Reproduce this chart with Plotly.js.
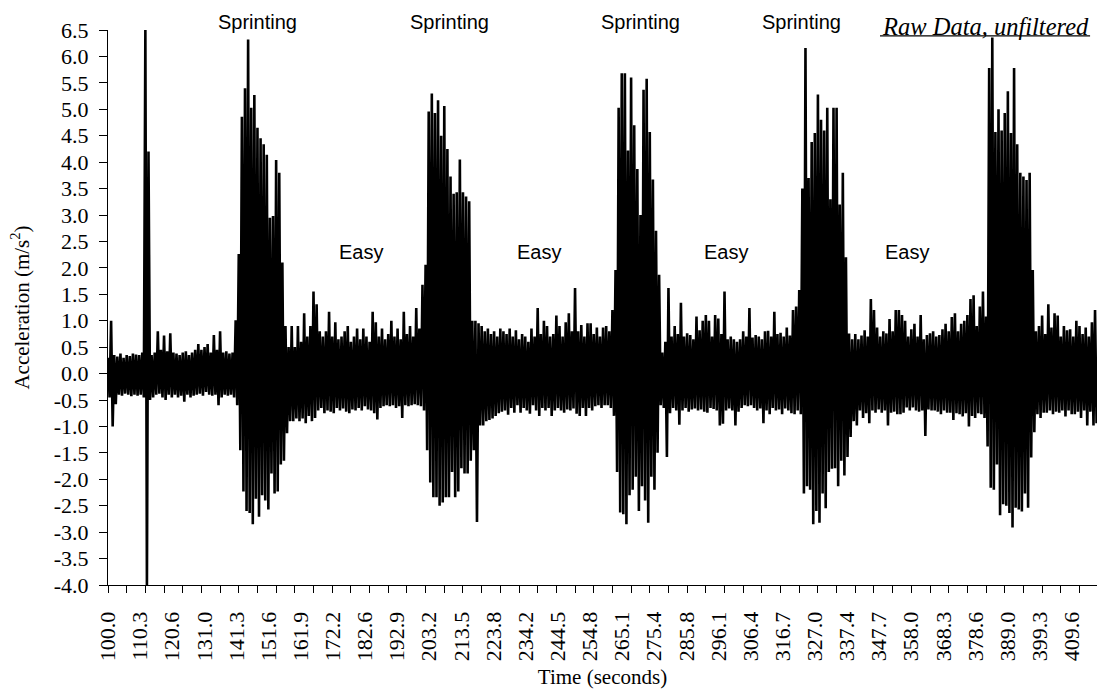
<!DOCTYPE html>
<html>
<head>
<meta charset="utf-8">
<script src="https://cdn.plot.ly/plotly-3.0.1.min.js"></script>
<style>
  html, body { margin: 0; padding: 0; background: #fff; }
  #chart { width: 1098px; height: 693px; }
</style>
</head>
<body>
<div id="chart"></div>
<script>
// Time of first bin (seconds); one bin per second
const startTime = 100;

// Per-second upper extremes of the raw signal (m/s^2), t = 100 .. 417
const upperPeaks = [
  0.3, 1.0, 0.35, 0.32, 0.38, 0.3, 0.35, 0.33, 0.38, 0.36,
  0.35, 0.4, 6.5, 4.2, 0.35, 0.4, 0.8, 0.45, 0.72, 0.42,
  0.76, 0.4, 0.38, 0.35, 0.4, 0.42, 0.35, 0.4, 0.45, 0.56,
  0.45, 0.5, 0.56, 0.4, 0.73, 0.45, 0.8, 0.4, 0.42, 0.38,
  0.4, 1.01, 2.26, 4.86, 5.4, 6.32, 5.03, 5.27, 4.65, 4.45,
  4.34, 4.14, 2.95, 2.98, 4.04, 3.8, 2.1, 0.9, 0.5, 0.9,
  0.5, 0.9, 0.6, 1.14, 0.7, 0.9, 1.55, 1.31, 0.8, 0.7,
  0.8, 1.17, 0.7, 0.97, 0.65, 0.7, 0.8, 0.9, 0.6, 0.7,
  0.85, 0.65, 0.85, 0.7, 0.6, 1.17, 0.97, 0.7, 0.85, 0.65,
  0.75, 1.0, 0.7, 0.85, 0.65, 1.17, 0.75, 0.9, 0.7, 1.24,
  0.85, 1.68, 2.06, 4.96, 5.3, 4.93, 5.17, 4.5, 5.06, 4.25,
  3.73, 3.4, 3.43, 4.05, 3.43, 3.35, 3.26, 1.0, 1.0, 0.95,
  0.9, 0.8, 0.85, 0.75, 0.8, 0.7, 0.85, 0.8, 0.75, 0.85,
  0.7, 0.82, 0.65, 0.75, 0.7, 0.6, 0.85, 0.7, 1.24, 0.75,
  1.0, 0.9, 0.7, 0.75, 1.1, 0.9, 0.7, 0.97, 1.14, 0.8,
  1.62, 0.8, 0.92, 0.7, 0.95, 0.95, 0.75, 0.87, 0.7, 0.87,
  0.9, 0.8, 1.2, 1.96, 5.03, 5.68, 5.68, 4.22, 5.6, 4.7,
  3.87, 3.0, 5.37, 5.58, 4.57, 3.67, 2.7, 1.87, 0.4, 0.6,
  1.62, 0.7, 0.9, 0.75, 1.34, 0.7, 0.76, 0.73, 0.65, 1.08,
  0.82, 1.0, 1.11, 1.0, 0.7, 1.11, 1.04, 0.75, 1.55, 0.65,
  0.7, 0.65, 0.6, 0.65, 0.8, 0.7, 1.24, 0.68, 0.73, 0.7,
  0.65, 0.8, 0.81, 0.7, 1.17, 0.75, 0.77, 0.7, 0.87, 0.72,
  1.2, 1.27, 1.58, 3.5, 6.16, 3.7, 4.38, 4.55, 5.28, 4.8,
  4.6, 5.03, 3.3, 5.03, 5.03, 3.2, 3.8, 2.2, 0.76, 0.65,
  0.75, 0.65, 0.72, 0.82, 0.7, 1.41, 1.2, 0.87, 0.7, 0.8,
  0.76, 1.03, 0.8, 1.2, 1.2, 1.11, 1.0, 0.7, 0.84, 0.94,
  0.7, 1.11, 0.65, 0.73, 0.76, 0.8, 0.7, 0.73, 0.84, 0.94,
  0.8, 1.07, 1.14, 0.8, 0.94, 1.0, 1.11, 1.41, 1.48, 0.9,
  1.27, 1.55, 1.08, 5.78, 6.36, 4.57, 5.0, 4.6, 4.93, 5.34,
  4.55, 5.78, 4.34, 3.8, 3.73, 3.66, 3.8, 1.96, 0.8, 0.9,
  1.1, 0.75, 1.31, 0.87, 1.14, 1.1, 0.7, 0.9, 0.82, 0.84,
  0.7, 1.0, 0.9, 0.75, 0.87, 0.7, 0.97, 1.2
];

// Per-second lower extremes of the raw signal (m/s^2), at t + 0.5
const lowerPeaks = [
  -0.45, -1.0, -0.58, -0.4, -0.42, -0.38, -0.4, -0.43, -0.4, -0.42,
  -0.4, -0.45, -4.0, -0.5, -0.45, -0.4, -0.38, -0.45, -0.5, -0.4,
  -0.45, -0.4, -0.45, -0.42, -0.53, -0.4, -0.45, -0.42, -0.4, -0.38,
  -0.42, -0.35, -0.4, -0.42, -0.4, -0.6, -0.45, -0.4, -0.42, -0.4,
  -0.45, -0.6, -1.45, -2.23, -2.6, -2.64, -2.85, -2.37, -2.71, -2.3,
  -2.4, -2.57, -1.89, -2.27, -2.23, -1.72, -1.65, -1.13, -0.9, -0.9,
  -0.85, -0.9, -0.85, -0.94, -0.8, -0.9, -0.84, -0.7, -0.65, -0.75,
  -0.7, -0.72, -0.75, -0.65, -0.7, -0.66, -0.72, -0.75, -0.68, -0.7,
  -0.65, -0.7, -0.62, -0.68, -0.7, -0.75, -0.87, -0.65, -0.62, -0.6,
  -0.62, -0.6, -0.65, -0.62, -0.84, -0.6, -0.62, -0.6, -0.58, -0.6,
  -0.62, -0.7, -1.45, -2.06, -2.34, -2.34, -2.5, -2.44, -2.34, -2.34,
  -1.86, -2.34, -2.23, -1.79, -1.89, -1.89, -1.65, -1.45, -2.81, -0.98,
  -0.98, -0.9, -0.88, -0.85, -0.8, -0.75, -0.72, -0.7, -0.78, -0.65,
  -0.74, -0.6, -0.74, -0.65, -0.7, -0.76, -0.6, -0.7, -0.8, -0.65,
  -0.7, -0.65, -0.8, -0.7, -0.65, -0.7, -0.74, -0.68, -0.7, -0.66,
  -0.76, -0.8, -0.65, -0.8, -0.65, -0.7, -0.62, -0.6, -0.65, -0.6,
  -0.6, -0.65, -0.8, -1.86, -2.63, -2.66, -2.85, -2.3, -2.2, -1.95,
  -2.6, -2.13, -2.4, -2.82, -1.95, -2.2, -1.5, -0.6, -0.65, -1.58,
  -0.75, -0.65, -0.7, -0.97, -0.7, -0.65, -0.72, -0.68, -0.66, -0.7,
  -0.68, -0.72, -0.74, -0.65, -0.67, -0.7, -0.98, -0.95, -0.7, -0.66,
  -0.7, -0.98, -0.72, -0.65, -0.6, -0.62, -0.6, -0.65, -0.7, -0.66,
  -0.94, -0.7, -0.77, -0.65, -0.7, -0.68, -0.77, -0.66, -0.7, -0.75,
  -0.77, -0.7, -0.77, -2.27, -2.13, -2.2, -2.85, -2.6, -2.82, -2.27,
  -2.55, -1.86, -1.8, -1.79, -2.13, -1.65, -1.93, -1.58, -1.2, -0.9,
  -0.98, -0.7, -0.84, -0.75, -0.94, -0.7, -0.74, -0.68, -0.74, -0.7,
  -0.98, -0.74, -0.72, -0.77, -0.77, -0.74, -0.64, -0.7, -0.64, -0.7,
  -0.72, -0.7, -1.18, -0.68, -0.7, -0.7, -0.72, -0.77, -0.7, -0.74,
  -0.74, -0.88, -0.75, -0.77, -0.81, -0.75, -1.0, -0.8, -0.84, -0.75,
  -0.77, -0.84, -1.38, -2.16, -2.2, -1.72, -2.68, -2.47, -2.5, -2.64,
  -2.91, -2.54, -2.57, -2.61, -2.27, -2.54, -1.59, -1.11, -0.77, -0.84,
  -0.74, -0.74, -0.7, -0.77, -0.72, -0.74, -0.7, -0.81, -0.7, -0.77,
  -0.77, -0.72, -0.84, -0.7, -0.98, -0.72, -0.98, -0.94
];

// Category tick labels on the time axis
const timeTickLabels = [
  '100.0', '110.3', '120.6', '131.0', '141.3', '151.6', '161.9', '172.2',
  '182.6', '192.9', '203.2', '213.5', '223.8', '234.2', '244.5', '254.8',
  '265.1', '275.4', '285.8', '296.1', '306.4', '316.7', '327.0', '337.4',
  '347.7', '358.0', '368.3', '378.6', '389.0', '399.3', '409.6'
];

// Acceleration tick labels
const accelTickLabels = [
  '-4.0', '-3.5', '-3.0', '-2.5', '-2.0', '-1.5', '-1.0', '-0.5', '0.0',
  '0.5', '1.0', '1.5', '2.0', '2.5', '3.0', '3.5', '4.0', '4.5', '5.0',
  '5.5', '6.0', '6.5'
];

// Phase labels
const sprintLabelTimes = [148.0, 209.6, 271.0, 322.7];
const easyLabelTimes = [181.1, 238.4, 298.6, 356.6];

// Build the signal trace (alternating upper/lower extremes)
const xs = [], ys = [];
for (let i = 0; i < upperPeaks.length; i++) {
  xs.push(startTime + i); ys.push(upperPeaks[i]);
  xs.push(startTime + i + 0.5); ys.push(lowerPeaks[i]);
}

const xEnd = 417.63;
const serif = '"Liberation Serif", "Times New Roman", serif';
const sans = '"Liberation Sans", Arial, sans-serif';

const annotations = [];
sprintLabelTimes.forEach(t => annotations.push({
  x: t, xref: 'x', y: 1.0145, yref: 'paper', text: 'Sprinting', showarrow: false,
  font: { family: sans, size: 20, color: '#000' }, xanchor: 'center', yanchor: 'middle'
}));
easyLabelTimes.forEach(t => annotations.push({
  x: t, xref: 'x', y: 2.3, yref: 'y', text: 'Easy', showarrow: false,
  font: { family: sans, size: 20, color: '#000' }, xanchor: 'center', yanchor: 'middle'
}));
annotations.push({
  x: 0.8875, xref: 'paper', y: 1.007, yref: 'paper', text: '<i>Raw Data, unfiltered</i>',
  showarrow: false, font: { family: serif, size: 24.5, color: '#000' },
  xanchor: 'center', yanchor: 'middle'
});

const data = [
  {
    type: 'scatter', mode: 'lines', x: xs, y: ys,
    line: { color: '#000', width: 2.6, simplify: false }, hoverinfo: 'skip', showlegend: false
  },
  { type: 'scatter', mode: 'lines', x: [], y: [], xaxis: 'x2', yaxis: 'y', showlegend: false }
];

const layout = {
  width: 1098, height: 693,
  margin: { l: 108, r: 1, t: 30, b: 108 },
  paper_bgcolor: '#fff', plot_bgcolor: '#fff',
  showlegend: false,
  font: { family: serif, size: 21, color: '#000' },
  xaxis: {
    range: [startTime, xEnd], tickmode: 'array',
    tickvals: timeTickLabels.map(parseFloat), ticktext: timeTickLabels,
    tickangle: -90, ticks: 'outside', ticklen: 17, tickcolor: 'rgba(0,0,0,0)',
    showline: true, linecolor: '#000', linewidth: 1, showgrid: false, zeroline: false,
    tickfont: { family: serif, size: 22, color: '#000' },
    title: { text: 'Time (seconds)', font: { family: serif, size: 21, color: '#000' }, standoff: 9 },
    automargin: false
  },
  xaxis2: {
    overlaying: 'x', anchor: 'y', side: 'bottom', range: [startTime, xEnd],
    tickmode: 'linear', tick0: 100, dtick: 6, ticks: 'outside', ticklen: 7,
    tickcolor: '#000', tickwidth: 1, showticklabels: false, showgrid: false,
    zeroline: false, showline: false
  },
  yaxis: {
    range: [-4, 6.5], tickmode: 'array',
    tickvals: accelTickLabels.map(parseFloat), ticktext: accelTickLabels,
    ticks: 'outside', ticklen: 8, tickcolor: '#000', showline: true, linecolor: '#000',
    linewidth: 1, showgrid: false, zeroline: false, ticklabelstandoff: 6,
    tickfont: { family: serif, size: 22, color: '#000' },
    title: { text: 'Acceleration (m/s<sup>2</sup>)', font: { family: serif, size: 21, color: '#000' }, standoff: 18 },
    automargin: false
  },
  annotations: annotations,
  shapes: [{
    type: 'line', xref: 'paper', yref: 'paper', x0: 0.7806, x1: 0.993,
    y0: 0.9895, y1: 0.9895, line: { color: '#000', width: 1.3 }
  }]
};

Plotly.newPlot('chart', data, layout, { displayModeBar: false, staticPlot: true });
</script>
</body>
</html>
